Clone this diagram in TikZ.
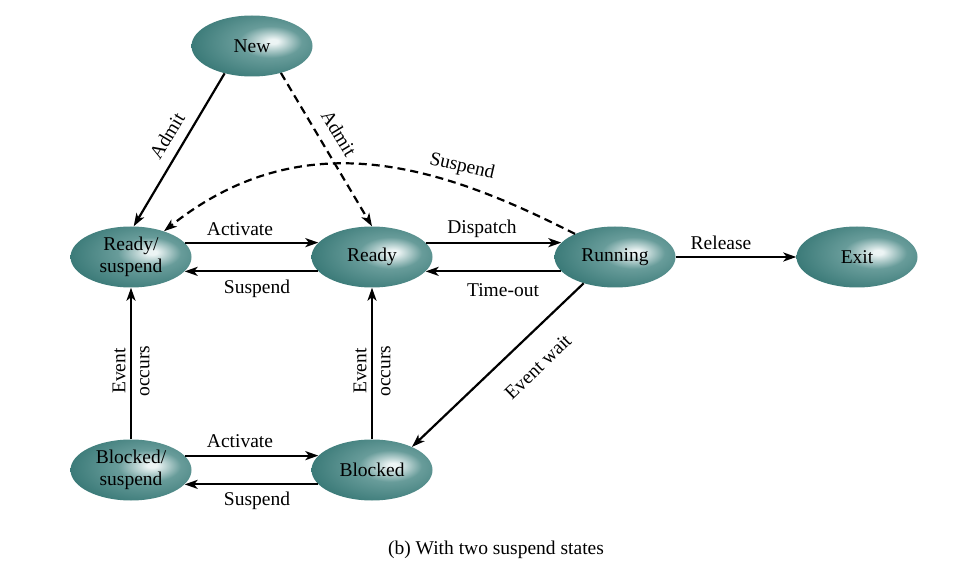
\documentclass[tikz,border=0pt]{standalone}
\usepackage{fontspec}
\setmainfont{Liberation Serif}
\usetikzlibrary{shapes.geometric,arrows.meta}
\definecolor{tealhi}{RGB}{236,244,244}
\definecolor{tealmid}{RGB}{104,156,154}
\definecolor{tealdark}{RGB}{56,120,118}
\pgfdeclareradialshading{stateshade}{\pgfpoint{9bp}{4bp}}{color(0bp)=(tealhi); color(2bp)=(tealhi); color(13bp)=(tealmid); color(32bp)=(tealdark); color(80bp)=(tealdark)}
\begin{document}
\begin{tikzpicture}[x=1pt,y=-1pt,
  state/.style={ellipse, shading=stateshade, minimum width=121pt, minimum height=61pt, inner sep=0pt, align=center, font=\fontsize{19.5}{22}\selectfont},
  lbl/.style={font=\fontsize{19.5}{24}\selectfont, inner sep=0pt, align=center},
  arr/.style={line width=2.2pt, -{Stealth[length=13pt,width=9pt,inset=3.5pt]}},
  dsh/.style={dash pattern=on 8pt off 5pt}]
\useasboundingbox (0,0) rectangle (954,572);
\node[state] (new) at (252,46) {New};
\node[state] (rs) at (131,257) {Ready/\\suspend};
\node[state] (rd) at (372,257) {Ready};
\node[state] (run) at (615,257) {Running};
\node[state] (exit) at (857,257) {Exit};
\node[state] (bs) at (131,470) {Blocked/\\suspend};
\node[state] (bl) at (372,470) {Blocked};

\draw[arr] (rs.15) -- (rd.165);
\draw[arr] (rd.195) -- (rs.345);
\draw[arr] (rd.15) -- (run.165);
\draw[arr] (run.195) -- (rd.345);
\draw[arr] (run.east) -- (exit.west);
\draw[arr] (bs.15) -- (bl.165);
\draw[arr] (bl.195) -- (bs.345);
\draw[arr] (bs.north) -- (rs.south);
\draw[arr] (bl.north) -- (rd.south);
\draw[arr] (new.225) -- (rs.85);
\draw[arr,dsh] (new.317) -- (rd.north);
\draw[arr] (run.220) -- (bl.30);
\draw[arr,dsh] (run.150) .. controls (447,169) and (306,118) .. (rs.38);

\node[lbl] (lact1) at (240,229) {Activate};
\node[lbl] (lsus1) at (257,289) {Suspend};
\node[lbl] (ldis) at (482,229) {Dispatch};
\node[lbl] (ltime) at (503,290) {Time-out};
\node[lbl] (lrel) at (721,243) {Release};
\node[lbl] (lact2) at (240,441) {Activate};
\node[lbl] (lsus2) at (257,501) {Suspend};
\node[lbl, rotate=59] (ladm1) at (167,136) {Admit};
\node[lbl, rotate=-59] (ladm2) at (339,133) {Admit};
\node[lbl, rotate=44] (lew) at (538,367) {Event wait};
\node[lbl, rotate=-13] (lsus3) at (462,167) {Suspend};
\node[lbl, rotate=90] (leo1) at (131,371) {Event\\occurs};
\node[lbl, rotate=90] (leo2) at (372,371) {Event\\occurs};
\node[lbl] (cap) at (496,550) {(b) With two suspend states};
\end{tikzpicture}
\end{document}
